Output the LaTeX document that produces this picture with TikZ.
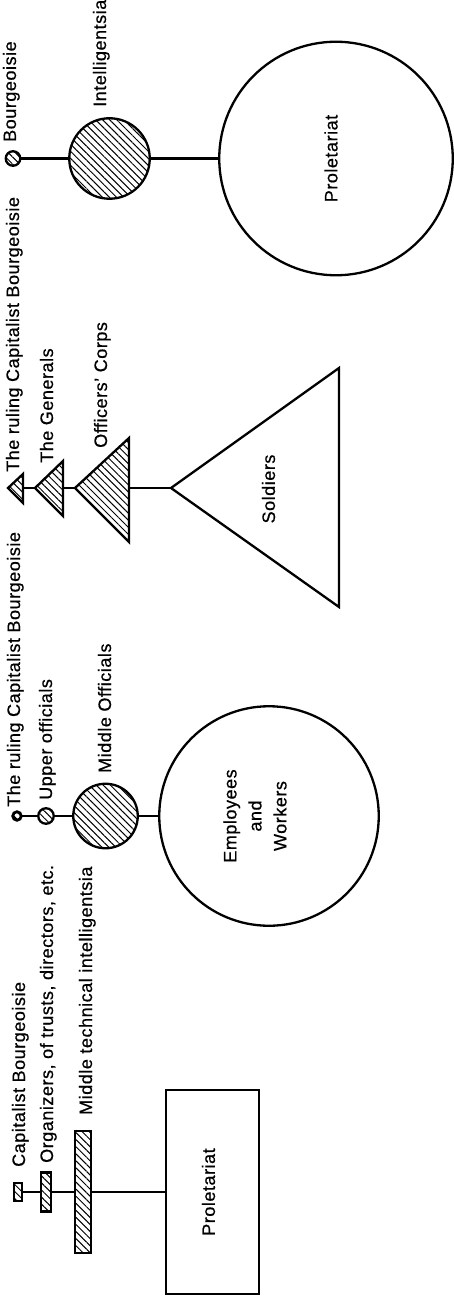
\documentclass[tikz,border=0pt]{standalone}
\usepackage{fontspec}
\setmainfont{Liberation Sans}[LetterSpace=3,FakeBold=0.6]
\usetikzlibrary{patterns.meta}
\begin{document}
\begin{tikzpicture}[x=1pt,y=-1pt,
  shp/.style={draw=black,line width=2.3pt,inner sep=0pt,outer sep=0pt},
  circ/.style={shp,circle},
  boxs/.style={shp,rectangle},
  hatch/.style={pattern={Lines[angle=-45,distance=5pt,line width=1pt]}},
  conn/.style={draw=black,line width=2.2pt},
  txt/.style={inner sep=0pt,rotate=90,font=\fontsize{18}{25}\selectfont},
  lbl/.style={txt,anchor=base west}]
\useasboundingbox (0,0) rectangle (454,1297);
% ---------- top: Bourgeoisie / Intelligentsia / Proletariat
\node[circ,hatch,minimum size=14.5pt] (b4) at (13,158.5) {};
\node[circ,hatch,minimum size=80.5pt] (int) at (109.5,158.5) {};
\node[circ,minimum size=233.5pt] (prol) at (336,158.5) {};
\draw[conn] (b4) -- (int);
\draw[conn] (int) -- (prol);
\node[txt] (prolt) at (331,158.5) {Proletariat};
\node[lbl] (lb4) at (16,142) {Bourgeoisie};
\node[lbl] (lint) at (106,107) {Intelligentsia};
% ---------- army: triangles
\coordinate (t1a) at (8,488);  \coordinate (t1b) at (23,488);
\coordinate (t2a) at (35,488); \coordinate (t2b) at (63,488);
\coordinate (t3a) at (75,488); \coordinate (t3b) at (129,488);
\coordinate (tsa) at (171,488); \coordinate (tsb) at (339,488);
\draw[shp,hatch,line join=miter] (t1a) -- (23,474) -- (23,503) -- cycle;
\draw[shp,hatch] (t2a) -- (63,461) -- (63,516) -- cycle;
\draw[shp,hatch] (t3a) -- (129,438) -- (129,542) -- cycle;
\draw[shp] (tsa) -- (339,368) -- (339,607) -- cycle;
\draw[conn] (t1b) -- (t2a);
\draw[conn] (t2b) -- (t3a);
\draw[conn] (t3b) -- (tsa);
\node[txt] (soldt) at (268.5,489) {Soldiers};
\node[lbl] (lt1) at (19,472) {The ruling Capitalist Bourgeoisie};
\node[lbl] (lt2) at (53,463) {The Generals};
\node[lbl] (lt3) at (107,448) {Officers’ Corps};
% ---------- officials: circles
\node[circ,hatch,minimum size=8.5pt,line width=2.8pt] (c1) at (17,816) {};
\node[circ,hatch,minimum size=15.5pt] (c2) at (46,816) {};
\node[circ,hatch,minimum size=64.5pt] (c3) at (105.5,816) {};
\node[circ,minimum size=219.5pt] (c4) at (269,816) {};
\draw[conn] (c1) -- (c2);
\draw[conn] (c2) -- (c3);
\draw[conn] (c3) -- (c4);
\node[txt,align=center] (c4t) at (255,816) {Employees\\and\\Workers};
\node[lbl] (lc1) at (20,807) {The ruling Capitalist Bourgeoisie};
\node[lbl] (lc2) at (52,800) {Upper officials};
\node[lbl] (lc3) at (111,773) {Middle Officials};
% ---------- industry: rectangles
\node[boxs,hatch,minimum width=8pt,minimum height=18pt] (r1) at (18,1192) {};
\node[boxs,hatch,minimum width=10pt,minimum height=39pt] (r2) at (46,1192) {};
\node[boxs,hatch,minimum width=16pt,minimum height=122pt] (r3) at (83,1192) {};
\node[boxs,minimum width=93pt,minimum height=204pt] (r4) at (212.5,1192) {};
\draw[conn] (r1) -- (r2);
\draw[conn] (r2) -- (r3);
\draw[conn] (r3) -- (r4);
\node[txt] (r4t) at (208.5,1192) {Proletariat};
\node[lbl] (lr1) at (25,1167) {Capitalist Bourgeoisie};
\node[lbl] (lr2) at (53,1163) {Organizers, of trusts, directors, etc.};
\node[lbl] (lr3) at (92,1115) {Middle technical intelligentsia};
\end{tikzpicture}
\end{document}
